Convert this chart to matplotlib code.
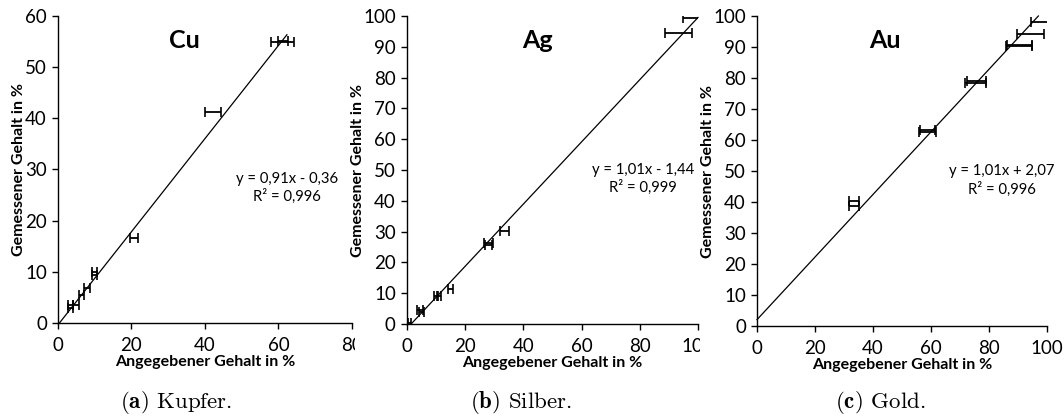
import matplotlib
matplotlib.use("Agg")
import matplotlib.pyplot as plt
from matplotlib.transforms import Bbox, TransformedBbox

plt.rcParams["font.family"] = ["Lato", "DejaVu Sans"]
plt.rcParams["mathtext.fontset"] = "cm"

# Kupfer (Cu)
cu_x = [61.0, 61.2, 42.2, 20.7, 10.0, 10.0, 7.9, 6.3, 4.8, 3.5, 3.4]
cu_y = [54.9, 55.1, 41.2, 16.7, 9.9, 9.3, 6.9, 5.4, 3.6, 3.6, 3.0]
cu_xerr = [3.1, 1.4, 2.2, 1.1, 0.7, 0.7, 0.7, 0.7, 0.8, 0.7, 0.6]

# Silber (Ag)
ag_x = [99.0, 93.4, 33.5, 28.0, 28.0, 15.0, 10.0, 11.0, 4.5, 5.0, 1.0]
ag_y = [99.5, 94.4, 30.2, 26.4, 25.8, 11.5, 9.2, 9.2, 4.6, 4.0, 0.4]
ag_xerr = [4.2, 4.6, 1.7, 1.4, 1.2, 0.9, 0.8, 0.8, 1.0, 1.0, 0.5]

# Gold (Au)
au_x = [98.0, 94.3, 90.3, 90.5, 75.4, 75.6, 58.7, 58.9, 33.4, 33.4]
au_y = [98.0, 94.3, 90.4, 90.7, 78.5, 78.9, 62.7, 63.1, 40.4, 38.7]
au_xerr = [3.5, 4.7, 4.5, 4.2, 3.6, 3.3, 2.9, 2.6, 1.6, 1.6]

panels = [
    dict(symbol="Cu", caption=r"$\mathbf{(a)}$ Kupfer.", x=cu_x, y=cu_y, xerr=cu_xerr,
         slope=0.91, icpt=-0.36, r2="0,996", eq="y = 0,91x - 0,36",
         fit_range=(0.4, 62.3), xmax=80, ymax=60, ystep=10,
         pos=[0.0545, 0.2236, 0.2763, 0.738], eq_pos=(0.78, 0.44), title_x=0.43,
         cap_x=176),
    dict(symbol="Ag", caption=r"$\mathbf{(b)}$ Silber.", x=ag_x, y=ag_y, xerr=ag_xerr,
         slope=1.01, icpt=-1.44, r2="0,999", eq="y = 1,01x - 1,44",
         fit_range=(1.43, 100.0), xmax=100, ymax=100, ystep=10,
         pos=[0.3825, 0.2212, 0.2735, 0.740], eq_pos=(0.81, 0.47), title_x=0.45,
         cap_x=521),
    dict(symbol="Au", caption=r"$\mathbf{(c)}$ Gold.", x=au_x, y=au_y, xerr=au_xerr,
         slope=1.01, icpt=2.07, r2="0,996", eq="y = 1,01x + 2,07",
         fit_range=(0.0, 97.0), xmax=100, ymax=100, ystep=10,
         pos=[0.7115, 0.2163, 0.2726, 0.745], eq_pos=(0.845, 0.47), title_x=0.44,
         cap_x=880),
]

W, H = 1064, 416


def draw_panel(fig, p, clip_right):
    ax = fig.add_axes(p["pos"])
    ax.errorbar(p["x"], p["y"], xerr=p["xerr"], fmt="none", ecolor="black",
                elinewidth=1.3, capsize=3.5, capthick=1.2, clip_on=True)
    x0, x1 = p["fit_range"]
    ax.plot([x0, x1], [p["slope"] * x0 + p["icpt"], p["slope"] * x1 + p["icpt"]],
            color="black", lw=0.9, clip_on=False)

    ax.set_xlim(0, p["xmax"])
    ax.set_ylim(0, p["ymax"])
    ax.set_xticks(range(0, p["xmax"] + 1, 20))
    ax.set_yticks(range(0, p["ymax"] + 1, p["ystep"]))
    for side in ["top", "right"]:
        ax.spines[side].set_visible(False)
    for side in ["left", "bottom"]:
        ax.spines[side].set_linewidth(1.0)
    ax.tick_params(direction="out", length=4, width=1.0, labelsize=13.5)
    ax.tick_params(axis="x", pad=6)
    ax.tick_params(axis="y", pad=4)

    ax.set_xlabel("Angegebener Gehalt in %", fontsize=11.5, fontweight="bold", labelpad=1)
    ax.set_ylabel("Gemessener Gehalt in %", fontsize=11.5, fontweight="bold", labelpad=-1)
    ax.text(p["title_x"], 0.92, p["symbol"], transform=ax.transAxes, fontsize=18,
            fontweight="bold", ha="center", va="center")
    ax.text(p["eq_pos"][0], p["eq_pos"][1], p["eq"] + "\nR² = " + p["r2"],
            transform=ax.transAxes, fontsize=10.7, ha="center", va="center",
            linespacing=1.25)

    # cut tick labels at the edge of the panel, like the cropped original images
    if clip_right is not None:
        box = TransformedBbox(Bbox([[0, 0], [clip_right / W, 1]]), fig.transFigure)
        for lbl in ax.get_xticklabels():
            lbl.set_clip_box(box)
            lbl.set_clip_on(True)

    fig.text(p["cap_x"] / W, 1 - 402 / H, p["caption"], family="cmr10",
             fontsize=16.5, ha="center", va="center")
    return ax


def main():
    fig = plt.figure(figsize=(W / 100, H / 100), dpi=100)
    clips = [355, 700, None]
    for p, c in zip(panels, clips):
        draw_panel(fig, p, c)
    fig.savefig("out.png", dpi=100, facecolor="white")
    plt.close(fig)


if __name__ == "__main__":
    main()
